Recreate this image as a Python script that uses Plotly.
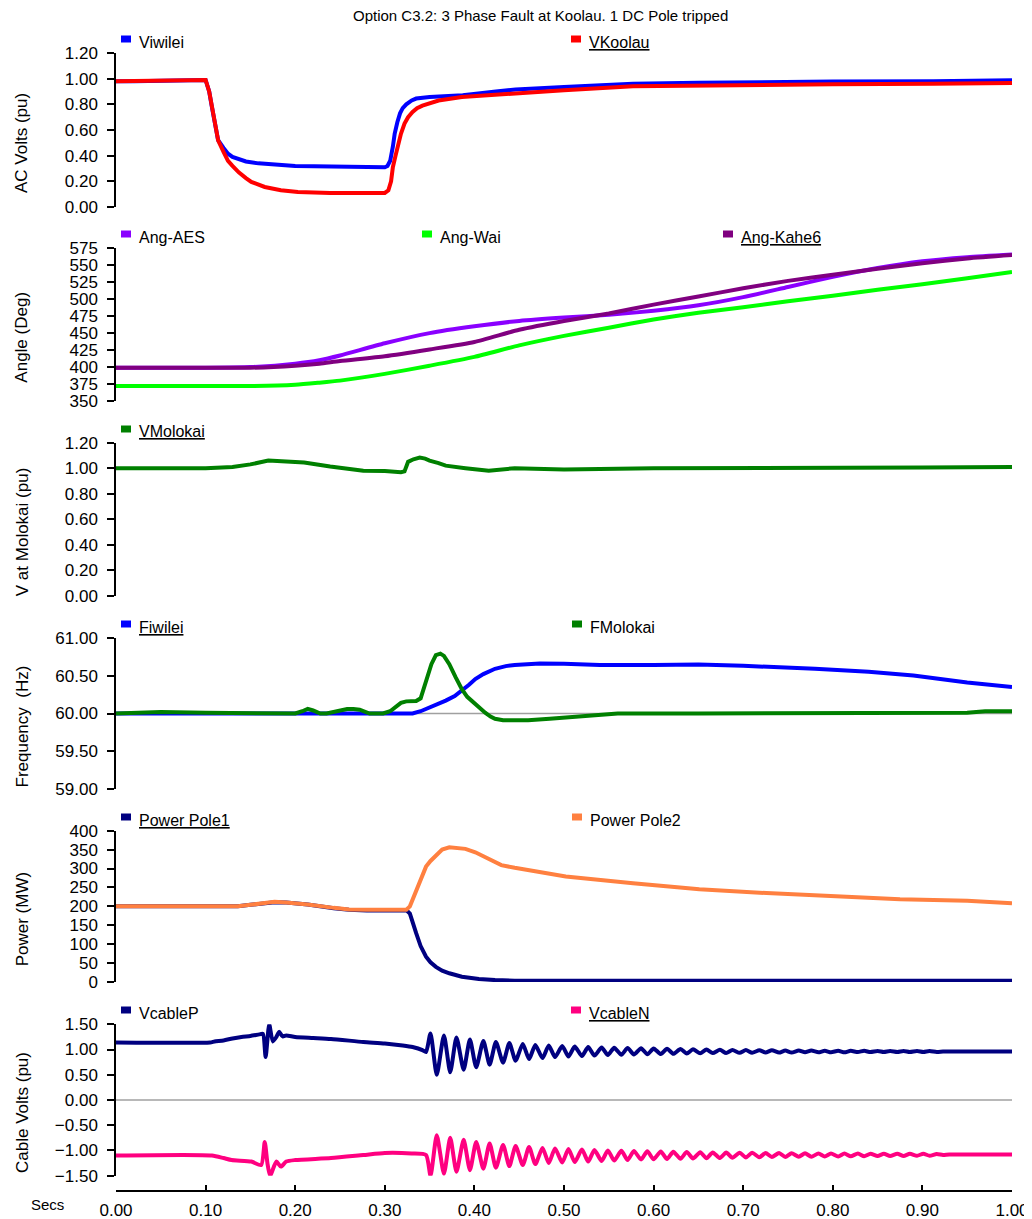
import plotly.graph_objects as go

# ---------------------------------------------------------------------------
# data (time in seconds)
# ---------------------------------------------------------------------------
t_viwilei = [0.0, 0.02, 0.10, 0.104, 0.107, 0.111, 0.114, 0.12, 0.125, 0.13, 0.137, 0.145, 0.159, 0.17,
             0.184, 0.20, 0.221, 0.25, 0.276, 0.30, 0.303, 0.306, 0.309, 0.311, 0.314, 0.317, 0.32, 0.324,
             0.33, 0.335, 0.35, 0.387, 0.424, 0.446, 0.50, 0.577, 0.65, 0.726, 0.80, 0.912, 1.0]
v_viwilei = [0.98, 0.98, 0.99, 0.90, 0.78, 0.65, 0.52, 0.46, 0.415, 0.39, 0.37, 0.355, 0.34, 0.333,
             0.325, 0.32, 0.317, 0.313, 0.31, 0.31, 0.32, 0.36, 0.47, 0.57, 0.66, 0.73, 0.77, 0.80,
             0.83, 0.845, 0.857, 0.87, 0.90, 0.915, 0.935, 0.96, 0.968, 0.974, 0.978, 0.98, 0.987]

t_vkoolau = [0.0, 0.10, 0.104, 0.107, 0.111, 0.114, 0.12, 0.125, 0.13, 0.137, 0.145, 0.151, 0.166, 0.184,
             0.203, 0.239, 0.30, 0.304, 0.307, 0.309, 0.312, 0.315, 0.318, 0.322, 0.326, 0.331, 0.336,
             0.342, 0.35, 0.36, 0.386, 0.423, 0.446, 0.50, 0.577, 0.65, 0.726, 0.80, 0.912, 1.0]
v_vkoolau = [0.98, 0.99, 0.90, 0.78, 0.64, 0.52, 0.43, 0.36, 0.32, 0.27, 0.225, 0.195, 0.156, 0.13,
             0.117, 0.11, 0.11, 0.13, 0.20, 0.31, 0.40, 0.49, 0.57, 0.65, 0.70, 0.74, 0.77,
             0.79, 0.81, 0.83, 0.857, 0.875, 0.89, 0.91, 0.94, 0.947, 0.953, 0.957, 0.96, 0.966]

t_ang = [0.0, 0.10, 0.15, 0.20, 0.227, 0.25, 0.30, 0.35, 0.40, 0.45, 0.50, 0.55, 0.60, 0.65,
         0.70, 0.75, 0.80, 0.85, 0.90, 0.95, 1.0]
ang_aes = [399, 399, 400, 405, 410, 417, 435, 450, 460, 468, 473, 477, 483, 491,
           503, 518, 533, 546, 556, 562, 566]
ang_wai = [372, 372, 372, 374, 377, 380, 390, 402, 415, 432, 446, 458, 470, 480,
           488, 497, 505, 514, 522, 531, 540]
ang_kahe6 = [399, 399, 399, 402, 405, 409, 416, 426, 437, 455, 468, 479, 492, 504,
             516, 527, 536, 545, 553, 560, 565]

t_vmolokai = [0.0, 0.05, 0.10, 0.13, 0.15, 0.17, 0.19, 0.21, 0.239, 0.26, 0.276, 0.30, 0.318, 0.322,
              0.326, 0.332, 0.339, 0.345, 0.35, 0.36, 0.368, 0.39, 0.416, 0.445, 0.50, 0.60, 0.70,
              0.80, 0.90, 1.0]
v_vmolokai = [1.00, 1.00, 1.00, 1.01, 1.03, 1.06, 1.055, 1.045, 1.013, 0.99, 0.98, 0.978, 0.968, 0.975,
              1.05, 1.07, 1.083, 1.075, 1.06, 1.04, 1.02, 1.0, 0.98, 1.0, 0.99, 1.0, 1.0,
              1.005, 1.005, 1.01]

t_fiwilei = [0.0, 0.2, 0.331, 0.34, 0.35, 0.36, 0.368, 0.378, 0.386, 0.394, 0.401, 0.41, 0.423, 0.435,
             0.445, 0.46, 0.473, 0.50, 0.54, 0.60, 0.65, 0.70, 0.726, 0.78, 0.84, 0.89, 0.95, 1.0]
f_fiwilei = [60.0, 60.0, 60.0, 60.03, 60.076, 60.12, 60.17, 60.23, 60.30, 60.38, 60.455, 60.52, 60.59,
             60.625, 60.64, 60.655, 60.66, 60.655, 60.64, 60.64, 60.645, 60.63, 60.62, 60.59, 60.55,
             60.50, 60.41, 60.35]

t_fmolokai = [0.0, 0.05, 0.10, 0.15, 0.20, 0.208, 0.214, 0.22, 0.228, 0.235, 0.245, 0.252, 0.258, 0.265,
              0.272, 0.283, 0.298, 0.306, 0.313, 0.318, 0.324, 0.33, 0.335, 0.340, 0.346, 0.352, 0.357,
              0.362, 0.366, 0.372, 0.379, 0.386, 0.392, 0.397, 0.404, 0.412, 0.418, 0.423, 0.432,
              0.445, 0.46, 0.484, 0.52, 0.56, 0.65, 0.75, 0.85, 0.95, 0.97, 1.0]
f_fmolokai = [60.0, 60.02, 60.01, 60.0, 60.0, 60.03, 60.06, 60.04, 60.0, 60.0, 60.03, 60.05, 60.06, 60.06,
              60.05, 60.0, 60.0, 60.03, 60.10, 60.14, 60.16, 60.165, 60.165, 60.2, 60.43, 60.65, 60.77,
              60.79, 60.76, 60.65, 60.48, 60.32, 60.22, 60.165, 60.10, 60.01, 59.96, 59.93, 59.91,
              59.905, 59.91, 59.93, 59.96, 60.0, 60.0, 60.0, 60.0, 60.01, 60.03, 60.03]

t_pole1 = [0.0, 0.136, 0.15, 0.165, 0.177, 0.19, 0.214, 0.243, 0.26, 0.28, 0.30, 0.324, 0.328, 0.332,
           0.335, 0.34, 0.346, 0.351, 0.357, 0.364, 0.372, 0.386, 0.405, 0.423, 0.445, 0.50, 1.0]
p_pole1 = [200, 200, 204, 208, 211, 210, 205, 195, 191, 189, 190, 190, 181, 155,
           129, 95, 67, 52, 40, 30, 23, 14, 8, 5, 3.5, 3, 3]

t_pole2 = [0.0, 0.136, 0.15, 0.165, 0.177, 0.19, 0.214, 0.243, 0.26, 0.28, 0.30, 0.324, 0.328, 0.335,
           0.34, 0.346, 0.351, 0.357, 0.364, 0.372, 0.379, 0.39, 0.401, 0.416, 0.43, 0.445, 0.502,
           0.577, 0.651, 0.726, 0.80, 0.875, 0.95, 1.0]
p_pole2 = [200, 200, 204, 208, 212, 210, 205, 196, 192, 191, 191, 191, 200, 243,
           275, 305, 320, 333, 350, 356, 355, 352, 343, 325, 309, 302, 279,
           261, 245, 235, 226, 219, 215, 208]

# cable volts before the pole trip
t_vcp_pre = [0.0, 0.105, 0.11, 0.12, 0.13, 0.14, 0.15, 0.16, 0.164, 0.167, 0.171, 0.175, 0.179, 0.182,
             0.186, 0.19, 0.2, 0.22, 0.24, 0.276, 0.30, 0.32, 0.331, 0.342, 0.346]
vcp_pre = [1.14, 1.14, 1.16, 1.18, 1.22, 1.25, 1.27, 1.30, 1.31, 0.85, 1.50, 1.16, 1.25, 1.35,
           1.26, 1.28, 1.25, 1.23, 1.21, 1.15, 1.12, 1.08, 1.05, 0.99, 0.95]
t_vcn_pre = [0.0, 0.107, 0.12, 0.129, 0.151, 0.162, 0.166, 0.169, 0.172, 0.179, 0.184, 0.19, 0.2,
             0.24, 0.276, 0.30, 0.33, 0.346]
vcn_pre = [-1.10, -1.10, -1.15, -1.19, -1.22, -1.29, -0.83, -1.25, -1.50, -1.22, -1.32, -1.22, -1.19,
           -1.15, -1.09, -1.05, -1.06, -1.09]

# ringing after the pole trip (successive peaks / troughs)
t_ring = [0.351, 0.358, 0.366, 0.373, 0.380, 0.388, 0.395, 0.402, 0.410, 0.417, 0.424, 0.432, 0.439,
          0.446, 0.454, 0.461, 0.468, 0.476, 0.483, 0.490, 0.498, 0.505, 0.512, 0.520, 0.527, 0.534,
          0.542, 0.549, 0.556, 0.564, 0.571, 0.578, 0.586, 0.593, 0.600, 0.608, 0.615, 0.622, 0.630,
          0.637, 0.644, 0.652, 0.659, 0.666, 0.674, 0.681, 0.688, 0.696, 0.703, 0.710, 0.718, 0.725,
          0.732, 0.740, 0.747, 0.754, 0.762, 0.769, 0.776, 0.784, 0.791, 0.798, 0.806, 0.813, 0.820,
          0.828, 0.835, 0.842, 0.850, 0.857, 0.864, 0.872, 0.879, 0.886, 0.894, 0.901, 0.908, 0.916,
          0.923]
vcp_ring = [1.32, 0.50, 1.28, 0.55, 1.24, 0.60, 1.20, 0.65, 1.17, 0.70, 1.15, 0.74, 1.13,
            0.78, 1.11, 0.81, 1.09, 0.83, 1.08, 0.85, 1.07, 0.86, 1.06, 0.87, 1.05, 0.88,
            1.04, 0.89, 1.035, 0.895, 1.03, 0.90, 1.025, 0.905, 1.02, 0.91, 1.015, 0.915, 1.01,
            0.92, 1.005, 0.925, 1.00, 0.93, 0.995, 0.93, 0.99, 0.935, 0.99, 0.935, 0.985, 0.94,
            0.985, 0.94, 0.98, 0.94, 0.98, 0.945, 0.98, 0.945, 0.975, 0.945, 0.975, 0.945, 0.975,
            0.95, 0.975, 0.95, 0.97, 0.95, 0.97, 0.95, 0.97, 0.95, 0.97, 0.95, 0.97, 0.95,
            0.96]
vcn_ring = [-1.50, -0.70, -1.46, -0.75, -1.42, -0.79, -1.39, -0.83, -1.36, -0.86, -1.34, -0.89, -1.31,
            -0.91, -1.29, -0.93, -1.27, -0.95, -1.25, -0.96, -1.24, -0.97, -1.23, -0.98, -1.22, -0.99,
            -1.21, -1.00, -1.20, -1.005, -1.19, -1.01, -1.18, -1.015, -1.175, -1.02, -1.17, -1.025,
            -1.165, -1.03, -1.16, -1.035, -1.155, -1.04, -1.15, -1.04, -1.145, -1.045, -1.14, -1.045,
            -1.135, -1.05, -1.13, -1.05, -1.13, -1.055, -1.125, -1.055, -1.125, -1.06, -1.12, -1.06,
            -1.12, -1.06, -1.115, -1.06, -1.115, -1.065, -1.11, -1.065, -1.11, -1.065, -1.11, -1.065,
            -1.105, -1.065, -1.105, -1.07, -1.09]
t_cable_post = [0.93, 1.0]
vcp_post = [0.96, 0.96]
vcn_post = [-1.08, -1.08]

x_ticks = [0.0, 0.1, 0.2, 0.3, 0.4, 0.5, 0.6, 0.7, 0.8, 0.9, 1.0]

# ---------------------------------------------------------------------------
# the page body adds an 8 px offset, so the figure is laid out in screen pixels minus OFF
OFF = 8
W, H = 1024, 1211
ML, MR, MT, MB = 108, 20, 2, 28
FONT = "Liberation Sans, Arial, sans-serif"


def fx(px):
    return (px - OFF - ML) / (W - ML - MR)


def fy(py):
    return (H - MB - (py - OFF)) / (H - MT - MB)


# top px, bottom px (screen), y range, dtick, tick format, axis title
panels = [
    (53, 207, [0, 1.2], 0.2, ".2f", "AC Volts (pu)"),
    (248.3, 401, [350, 575], 25, "d", "Angle (Deg)"),
    (442.7, 595.7, [0, 1.2], 0.2, ".2f", "V at Molokai (pu)"),
    (637.7, 789.3, [59, 61], 0.5, ".2f", "Frequency  (Hz)"),
    (830.7, 982, [0, 400], 50, "d", "Power (MW)"),
    (1024.3, 1175.7, [-1.5, 1.5], 0.5, ".2f", "Cable Volts (pu)"),
]

series = [
    (1, t_viwilei, v_viwilei, "#0000FF", "linear"),
    (1, t_vkoolau, v_vkoolau, "#FF0000", "linear"),
    (2, t_ang, ang_aes, "#8A00FF", "spline"),
    (2, t_ang, ang_wai, "#00FF00", "spline"),
    (2, t_ang, ang_kahe6, "#800080", "spline"),
    (3, t_vmolokai, v_vmolokai, "#008000", "linear"),
    (4, t_fiwilei, f_fiwilei, "#0000FF", "linear"),
    (4, t_fmolokai, f_fmolokai, "#008000", "linear"),
    (5, t_pole1, p_pole1, "#000080", "linear"),
    (5, t_pole2, p_pole2, "#FF8040", "linear"),
    (6, t_vcp_pre + t_ring + t_cable_post, vcp_pre + vcp_ring + vcp_post, "#000080", "spline"),
    (6, t_vcn_pre + t_ring + t_cable_post, vcn_pre + vcn_ring + vcn_post, "#FF0080", "spline"),
]

# legend: name, colour, text left px, text centre y px (screen)
legend_items = [
    ("Viwilei", "#0000FF", 137, 42),
    ("<u>VKoolau</u>", "#FF0000", 587, 42),
    ("Ang-AES", "#8A00FF", 137, 237),
    ("Ang-Wai", "#00FF00", 438, 237),
    ("<u>Ang-Kahe6</u>", "#800080", 739, 237),
    ("<u>VMolokai</u>", "#008000", 137, 432),
    ("<u>Fiwilei</u>", "#0000FF", 137, 627),
    ("FMolokai", "#008000", 588, 627),
    ("<u>Power Pole1</u>", "#000080", 137, 820),
    ("Power Pole2", "#FF8040", 588, 820),
    ("VcableP", "#000080", 137, 1013),
    ("<u>VcableN</u>", "#FF0080", 587, 1013),
]

ref_lines = [(4, 60.0), (6, 0.0)]

fig = go.Figure()
for p, t, v, c, shape in series:
    fig.add_trace(go.Scatter(x=t, y=v, mode="lines", xaxis=f"x{p}", yaxis=f"y{p}",
                             line=dict(color=c, width=4, shape=shape, smoothing=0.6),
                             showlegend=False, hoverinfo="skip"))

layout = dict(width=W, height=H, margin=dict(l=ML, r=MR, t=MT, b=MB, autoexpand=False),
              plot_bgcolor="white", paper_bgcolor="white",
              font=dict(family=FONT, size=17, color="black"),
              showlegend=False)

annotations = []
shapes = []
for i, (top, bot, rng, dt, fmt, title) in enumerate(panels, start=1):
    layout[f"yaxis{i}"] = dict(domain=[fy(bot), fy(top)], range=rng, dtick=dt, tick0=rng[0],
                               tickformat=fmt, anchor=f"x{i}", showline=True, linecolor="black",
                               linewidth=1.5, ticks="outside", ticklen=7, tickwidth=1.5,
                               tickcolor="black", showgrid=False, zeroline=False, automargin=False,
                               ticklabelstandoff=6, tickfont=dict(size=17))
    layout[f"xaxis{i}"] = dict(domain=[0, 1], range=[0, 1], anchor=f"y{i}", visible=False,
                               showgrid=False, zeroline=False, automargin=False)
    annotations.append(dict(text=title, textangle=-90, xref="paper", yref="paper",
                            x=fx(22), y=fy((top + bot) / 2 + 13), showarrow=False,
                            font=dict(size=17), xanchor="center", yanchor="middle"))

layout["xaxis6"] = dict(domain=[0, 1], range=[0, 1], anchor="free", position=0, visible=True,
                        showline=True, linecolor="black", linewidth=1.5, ticks="inside",
                        ticklen=5, tickwidth=1.5, tickcolor="black", tickvals=x_ticks,
                        tickformat=".2f", showgrid=False, zeroline=False, automargin=False,
                        ticklabelstandoff=4, tickfont=dict(size=17))

for p, yv in ref_lines:
    shapes.append(dict(type="line", xref=f"x{p} domain", yref=f"y{p}", x0=0, x1=1, y0=yv, y1=yv,
                       line=dict(color="#A0A0A0", width=1.5), layer="below"))

for name, c, tx, ty in legend_items:
    sx = tx - 11
    sy = ty - 3
    shapes.append(dict(type="rect", xref="paper", yref="paper",
                       x0=fx(sx - 5), x1=fx(sx + 5), y0=fy(sy + 3.5), y1=fy(sy - 3.5),
                       fillcolor=c, line=dict(width=0)))
    annotations.append(dict(text=name, xref="paper", yref="paper", x=fx(tx), y=fy(ty),
                            xanchor="left", yanchor="middle", showarrow=False,
                            font=dict(size=16)))

annotations.append(dict(text="Option C3.2: 3 Phase Fault at Koolau. 1 DC Pole tripped",
                        xref="paper", yref="paper", x=fx(540), y=fy(15), showarrow=False,
                        xanchor="center", yanchor="middle", font=dict(size=15)))
annotations.append(dict(text="Secs", xref="paper", yref="paper", x=fx(47), y=fy(1204),
                        showarrow=False, xanchor="center", yanchor="middle", font=dict(size=15)))

layout["annotations"] = annotations
layout["shapes"] = shapes
fig.update_layout(**layout)

fig.write_html("out.html")
